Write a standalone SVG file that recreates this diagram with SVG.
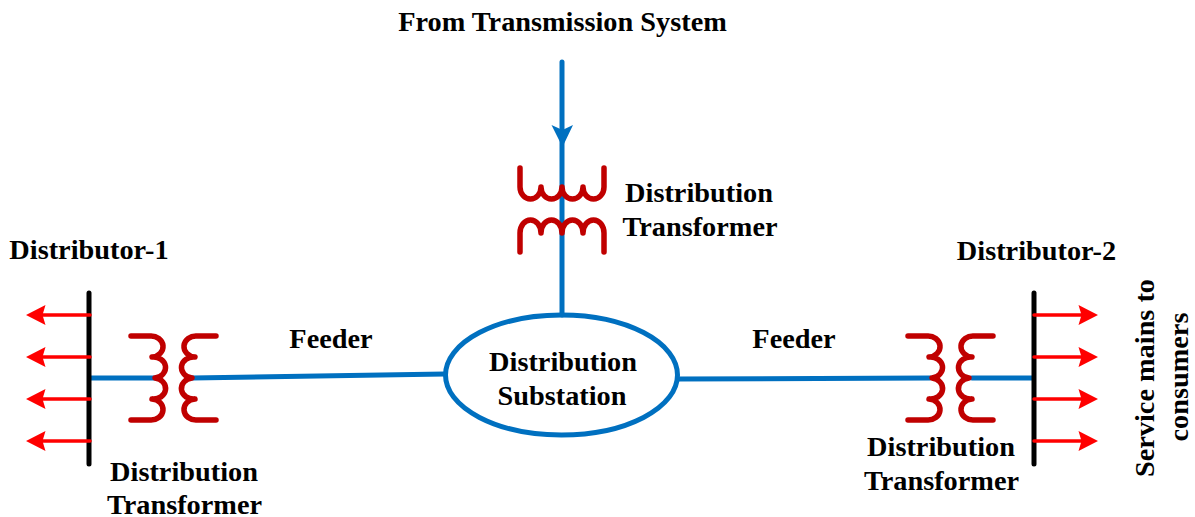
<svg xmlns="http://www.w3.org/2000/svg" width="1195" height="517" viewBox="0 0 1195 517">
<style>
text{font-family:"Liberation Serif","Times New Roman",serif;font-weight:bold;font-size:28.3px;fill:#000;text-anchor:middle}
.w{fill:none;stroke:#c00000;stroke-width:5.500;stroke-linecap:round;stroke-linejoin:round}
.b{fill:none;stroke:#0070c0;stroke-width:5;stroke-linecap:round}
.bus{fill:none;stroke:#000;stroke-width:5;stroke-linecap:round}
.r{fill:none;stroke:#f00;stroke-width:3.500;stroke-linecap:round}
</style>
<defs>
<g id="ra"><path class="r" d="M0 0H48"/><path d="M44.500 -10L64 0L44.500 10L47.500 0Z" fill="#f00"/></g>
<g id="la"><path class="r" d="M0 0H-48"/><path d="M-44.500 -10L-64 0L-44.500 10L-47.500 0Z" fill="#f00"/></g>
</defs>
<rect width="1195" height="517" fill="#fff"/>
<g id="connectors">
<path class="b" d="M562 62V315"/>
<path d="M551.500 125L562.500 147L573 125L562.500 130Z" fill="#0070c0"/>
<path class="b" d="M91 378H155"/>
<path class="b" d="M192 378L445 374"/>
<path class="b" d="M678 379L930 378"/>
<path class="b" d="M972 378H1032"/>
</g>
<g id="source-label"><text x="562.500" y="31">From Transmission System</text></g>
<g id="top-transformer">
<path class="w" d="M520 168V187A10.500 12 0 0 0 541 187A10.500 12 0 0 0 562 187A10.500 12 0 0 0 583 187A10.500 12 0 0 0 604 187V168"/>
<path class="w" d="M520 252V233A10.500 13 0 0 1 541 233A10.500 13 0 0 1 562 233A10.500 13 0 0 1 583 233A10.500 13 0 0 1 604 233V252"/>
<text x="699" y="202">Distribution</text>
<text x="700" y="236">Transformer</text>
</g>
<g id="substation">
<ellipse cx="561.500" cy="375" rx="116" ry="60" fill="none" stroke="#0070c0" stroke-width="5"/>
<text x="563" y="371">Distribution</text>
<text x="562" y="405">Substation</text>
</g>
<g id="left-feeder"><text x="331" y="348">Feeder</text></g>
<g id="right-feeder"><text x="794" y="348">Feeder</text></g>
<g id="distributor-1">
<text x="89" y="259">Distributor-1</text>
<path class="bus" d="M89 293V464"/>
<use href="#la" x="90" y="315"/><use href="#la" x="90" y="357"/><use href="#la" x="90" y="399"/><use href="#la" x="90" y="441"/>
</g>
<g id="left-transformer">
<path class="w" d="M131 336H150A12 10.500 0 0 1 152 357A12 10.500 0 0 1 155 378A12 10.500 0 0 1 152 399A12 10.500 0 0 1 150 420H131"/>
<path class="w" d="M216 336H197A12 10.500 0 0 0 195 357A12 10.500 0 0 0 192 378A12 10.500 0 0 0 195 399A12 10.500 0 0 0 197 420H216"/>
<text x="184" y="481">Distribution</text>
<text x="184.500" y="514">Transformer</text>
</g>
<g id="distributor-2">
<text x="1036.500" y="260">Distributor-2</text>
<path class="bus" d="M1034 293V464"/>
<use href="#ra" x="1034" y="315"/><use href="#ra" x="1034" y="357"/><use href="#ra" x="1034" y="399"/><use href="#ra" x="1034" y="441"/>
</g>
<g id="right-transformer">
<path class="w" d="M908 336H927A12 10.500 0 0 1 929 357A12 10.500 0 0 1 932 378A12 10.500 0 0 1 929 399A12 10.500 0 0 1 927 420H908"/>
<path class="w" d="M993 336H974A12 10.500 0 0 0 972 357A12 10.500 0 0 0 969 378A12 10.500 0 0 0 972 399A12 10.500 0 0 0 974 420H993"/>
<text x="941" y="456">Distribution</text>
<text x="941.500" y="490">Transformer</text>
</g>
<g id="service-label">
<text transform="translate(1154 378) rotate(-90)">Service mains to</text>
<text transform="translate(1188 377) rotate(-90)">consumers</text>
</g>
</svg>
